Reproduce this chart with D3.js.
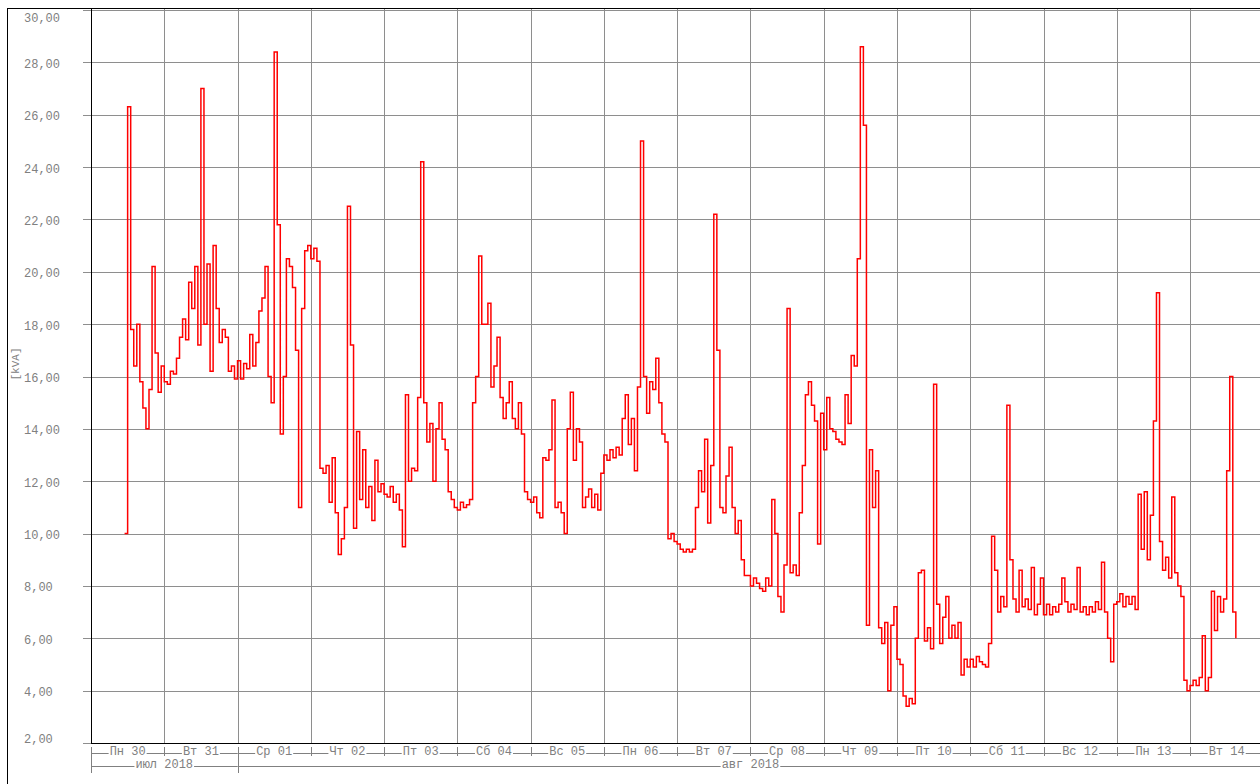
<!DOCTYPE html>
<html>
<head>
<meta charset="utf-8">
<script src="https://cdn.jsdelivr.net/npm/d3@7"></script>
<style>
    body { margin: 0; background: #fff; }
    svg { display: block; }
    text { font-family: "Liberation Mono", "Courier New", monospace; fill: #808080; }
</style>
</head>
<body>
<div id="vis-container"></div>
<script>
//size of the page and of the plot area
const w = 1260
const h = 784
const plotLeft = 91
const plotTop = 10
const plotBottom = 743
const dayWidth = 73.27

// first day on the axis, and hour of the first reading
const startDate = Date.UTC(2018, 6, 30)
const firstHour = 11

const yTicks = [2, 4, 6, 8, 10, 12, 14, 16, 18, 20, 22, 24, 26, 28, 30]
const dayLabels = ["Пн 30", "Вт 31", "Ср 01", "Чт 02", "Пт 03", "Сб 04", "Вс 05", "Пн 06",
    "Вт 07", "Ср 08", "Чт 09", "Пт 10", "Сб 11", "Вс 12", "Пн 13", "Вт 14"]
const monthLabels = ["июл 2018", "авг 2018"]
const monthFirstDay = [0, 2, 16]

// hourly apparent power [kVA], one row per day
const kva = [
    10.0, 26.3, 17.8, 16.4, 18.0, 15.8, 14.8, 14.0, 15.5, 20.2, 16.9, 15.4, 16.4,
    15.8, 15.7, 16.2, 16.1, 16.7, 17.5, 18.2, 17.4, 19.6, 18.6, 20.2, 17.2, 27.0, 18.0, 20.3, 16.2, 21.0, 18.6, 17.3, 17.8, 17.5, 16.2, 16.4, 15.9,
    16.6, 15.9, 16.5, 16.3, 17.6, 16.4, 17.3, 18.5, 19.0, 20.2, 16.0, 15.0, 28.4, 21.8, 13.8, 16.0, 20.5, 20.2, 19.4, 17.0, 11.0, 18.6, 20.8, 21.0,
    20.5, 20.9, 20.4, 12.5, 12.3, 12.6, 11.2, 12.9, 10.8, 9.2, 9.8, 11.0, 22.5, 17.2, 10.2, 13.9, 11.3, 13.2, 11.0, 11.8, 10.5, 12.8, 11.6, 11.9,
    11.5, 11.4, 11.8, 11.2, 11.5, 10.9, 9.5, 15.3, 12.0, 12.5, 12.4, 15.2, 24.2, 15.0, 13.5, 14.2, 12.0, 14.0, 15.0, 13.6, 13.2, 11.6, 11.3, 11.0,
    10.9, 11.2, 11.0, 11.1, 11.3, 15.0, 16.0, 20.6, 18.0, 18.0, 18.8, 15.6, 16.4, 17.5, 15.2, 14.4, 15.0, 15.8, 14.4, 14.0, 15.0, 13.8, 11.6, 11.3,
    11.2, 11.4, 10.8, 10.6, 12.9, 12.8, 13.2, 15.1, 11.0, 11.2, 10.8, 10.0, 14.0, 15.4, 12.8, 14.0, 13.5, 11.0, 11.4, 11.7, 11.0, 11.5, 10.9, 12.3,
    13.0, 12.8, 13.2, 12.9, 13.3, 13.0, 14.4, 15.3, 13.4, 14.4, 12.4, 15.6, 25.0, 16.0, 14.6, 15.8, 15.5, 16.7, 15.0, 13.8, 13.5, 9.8, 10.0, 9.7,
    9.6, 9.4, 9.3, 9.4, 9.3, 9.4, 11.0, 12.4, 11.6, 13.6, 10.4, 12.6, 22.2, 17.0, 11.0, 10.8, 12.2, 13.3, 11.0, 10.0, 10.5, 9.0, 8.4, 8.4,
    8.0, 8.3, 8.1, 7.9, 7.8, 8.3, 8.0, 11.3, 10.0, 7.6, 7.0, 8.8, 18.6, 8.5, 8.8, 8.4, 10.8, 12.6, 15.3, 15.8, 14.9, 14.3, 9.6, 14.6,
    13.2, 15.2, 14.0, 13.9, 13.6, 13.5, 13.4, 15.3, 14.2, 16.8, 16.4, 20.5, 28.6, 25.6, 6.5, 13.2, 11.0, 12.4, 6.4, 5.8, 6.6, 4.0, 6.5, 7.2,
    5.2, 5.0, 3.8, 3.4, 3.7, 3.5, 6.0, 8.5, 8.6, 5.9, 6.4, 5.6, 15.7, 7.3, 5.8, 6.8, 7.6, 6.0, 6.5, 6.0, 6.6, 4.6, 5.2, 4.9,
    5.2, 4.9, 5.3, 5.1, 5.0, 4.9, 5.8, 9.9, 8.6, 7.0, 7.6, 7.2, 14.9, 9.0, 7.5, 7.0, 8.6, 7.2, 7.5, 7.1, 8.7, 6.9, 7.3, 8.3,
    6.9, 7.3, 6.9, 7.2, 7.0, 7.3, 8.3, 7.4, 7.0, 7.3, 7.1, 8.7, 7.0, 7.2, 6.9, 7.2, 7.0, 7.4, 7.1, 8.9, 7.0, 6.0, 5.1, 7.3,
    7.4, 7.7, 7.2, 7.6, 7.3, 7.6, 7.1, 11.5, 9.4, 11.6, 9.0, 10.7, 14.3, 19.2, 9.7, 8.6, 9.1, 8.3, 11.4, 8.5, 8.0, 7.6, 4.4, 4.0,
    4.2, 4.4, 4.2, 4.5, 6.1, 4.0, 4.5, 7.8, 6.3, 7.6, 7.0, 7.5, 12.4, 16.0, 7.0, 6.0
]

const hourMs = 3600 * 1000
const data = kva.map((v, i) => [new Date(startDate + (firstHour + i) * hourMs), v])
const days = d3.range(dayLabels.length + 1).map(i => new Date(startDate + i * 24 * hourMs))

//scale functions
const xScale = d3.scaleUtc()
    .domain([days[0], days[days.length - 1]])
    .range([plotLeft, plotLeft + dayLabels.length * dayWidth])

const yScale = d3.scaleLinear()
    .domain([2, 30])
    .range([plotBottom, plotTop])

const crisp = v => Math.round(v) + 0.5

const svg = d3.select("#vis-container")
    .append("svg")
    .attr("width", w)
    .attr("height", h)

// outer frame
svg.append("rect")
    .attr("x", 7.5).attr("y", 8.5)
    .attr("width", w + 40).attr("height", h + 40)
    .attr("fill", "none")
    .attr("stroke", "#000")

// horizontal grid with short ticks on the left
svg.append("g").selectAll("line")
    .data(yTicks)
    .enter().append("line")
    .attr("x1", 83).attr("x2", w)
    .attr("y1", d => crisp(yScale(d))).attr("y2", d => crisp(yScale(d)))
    .attr("stroke", "#8e8e8e")

// vertical grid, one line per day
svg.append("g").selectAll("line")
    .data(days.slice(1))
    .enter().append("line")
    .attr("x1", d => crisp(xScale(d))).attr("x2", d => crisp(xScale(d)))
    .attr("y1", plotTop - 1).attr("y2", plotBottom)
    .attr("stroke", "#8e8e8e")

// y tick labels
svg.append("g").selectAll("text")
    .data(yTicks)
    .enter().append("text")
    .attr("x", 24)
    .attr("y", d => Math.min(Math.max(yScale(d) + 2.5, 19), 739.5))
    .attr("dominant-baseline", "central")
    .style("font-size", "12px")
    .text(d => d3.format(".2f")(d).replace(".", ","))

svg.append("text")
    .attr("transform", "translate(16,364) rotate(-90)")
    .attr("text-anchor", "middle")
    .attr("dominant-baseline", "central")
    .style("font-size", "11px")
    .text("[kVA]")

// the series
const line = d3.line()
    .x(d => xScale(d[0]))
    .y(d => yScale(d[1]))
    .curve(d3.curveStepAfter)

svg.append("path")
    .datum(data)
    .attr("fill", "none")
    .attr("stroke", "#ff0000")
    .attr("stroke-width", 1.5)
    .attr("d", line)

// axis lines
svg.append("line")
    .attr("x1", plotLeft + 0.5).attr("x2", plotLeft + 0.5)
    .attr("y1", plotTop - 1).attr("y2", plotBottom + 0.5)
    .attr("stroke", "#000")
svg.append("line")
    .attr("x1", plotLeft).attr("x2", w)
    .attr("y1", plotBottom + 0.5).attr("y2", plotBottom + 0.5)
    .attr("stroke", "#000")

// labelled row of the time axis: text with a rule running to the ticks either side
function labelRow(g, labels, edges, yText, yRule, tickBottom) {
    labels.forEach((label, i) => {
        const x0 = xScale(edges[i])
        const x1 = Math.min(xScale(edges[i + 1]), w)
        const cx = (xScale(edges[i]) + xScale(edges[i + 1])) / 2
        const t = g.append("text")
            .attr("x", cx)
            .attr("y", yText)
            .attr("text-anchor", "middle")
            .attr("dominant-baseline", "central")
            .style("font-size", "12px")
            .text(label)
        const tw = t.node().getComputedTextLength()
        g.append("line")
            .attr("x1", x0).attr("x2", cx - tw / 2 - 1)
            .attr("y1", yRule).attr("y2", yRule)
            .attr("stroke", "#808080")
        g.append("line")
            .attr("x1", cx + tw / 2 + 1).attr("x2", x1)
            .attr("y1", yRule).attr("y2", yRule)
            .attr("stroke", "#808080")
    })
    edges.slice(0, -1).forEach(d => {
        g.append("line")
            .attr("x1", crisp(xScale(d))).attr("x2", crisp(xScale(d)))
            .attr("y1", 747).attr("y2", tickBottom)
            .attr("stroke", "#808080")
    })
}

const xAxis = svg.append("g")
labelRow(xAxis, dayLabels, days, 751.5, 753.5, 756)
labelRow(xAxis, monthLabels, monthFirstDay.map(i => days[i]), 764.5, 766.5, 773)
</script>
</body>
</html>
